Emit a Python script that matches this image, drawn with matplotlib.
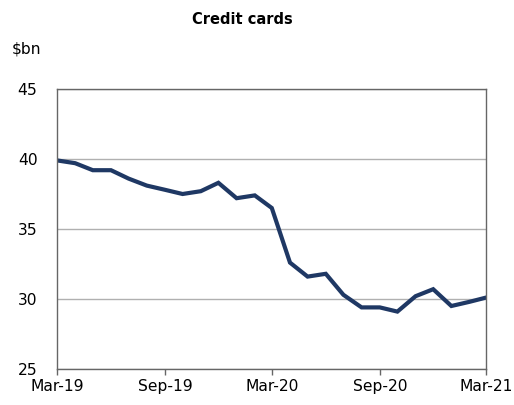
import matplotlib
matplotlib.use("Agg")
import matplotlib.pyplot as plt
import pandas as pd

# Monthly credit card balances, $bn
months = pd.date_range("2019-03-01", "2021-03-01", freq="MS")
balances = [39.9, 39.7, 39.2, 39.2, 38.6, 38.1, 37.8, 37.5, 37.7, 38.3,
            37.2, 37.4, 36.5, 32.6, 31.6, 31.8, 30.3, 29.4, 29.4, 29.1,
            30.2, 30.7, 29.5, 29.8, 30.1]
xtick_dates = pd.to_datetime(["2019-03-01", "2019-09-01", "2020-03-01",
                              "2020-09-01", "2021-03-01"])
xtick_labels = ["Mar-19", "Sep-19", "Mar-20", "Sep-20", "Mar-21"]
yticks = [25, 30, 35, 40, 45]

plt.rcParams["font.family"] = ["DejaVu Sans"]

fig = plt.figure(figsize=(5.14, 4.05), dpi=100)
ax = fig.add_axes([57 / 514, 1 - 369 / 405, (486 - 57) / 514, (369 - 89) / 405])

ax.plot(months, balances, color="#1f3864", linewidth=3.0, solid_joinstyle="miter")

ax.set_xlim(months[0], months[-1])
ax.set_ylim(25, 45)
ax.set_xticks(xtick_dates)
ax.set_xticklabels(xtick_labels)
ax.set_yticks(yticks)

ax.yaxis.grid(True, color="#b0b0b0", linewidth=1.0)
ax.set_axisbelow(True)

for s in ax.spines.values():
    s.set_color("#666666")
    s.set_linewidth(1.0)

ax.tick_params(axis="x", direction="out", length=4, width=1, color="#666666",
               labelsize=11.2, pad=3, labelcolor="black")
ax.tick_params(axis="y", length=0, labelsize=11.2, pad=14, labelcolor="black")

fig.text(242 / 514, 1 - 20 / 405, "Credit cards", ha="center", va="center",
         fontsize=10.5, fontweight="bold")
fig.text(12 / 514, 1 - 48.5 / 405, "$bn", ha="left", va="center", fontsize=11.2)

fig.savefig("out.png", dpi=100)
